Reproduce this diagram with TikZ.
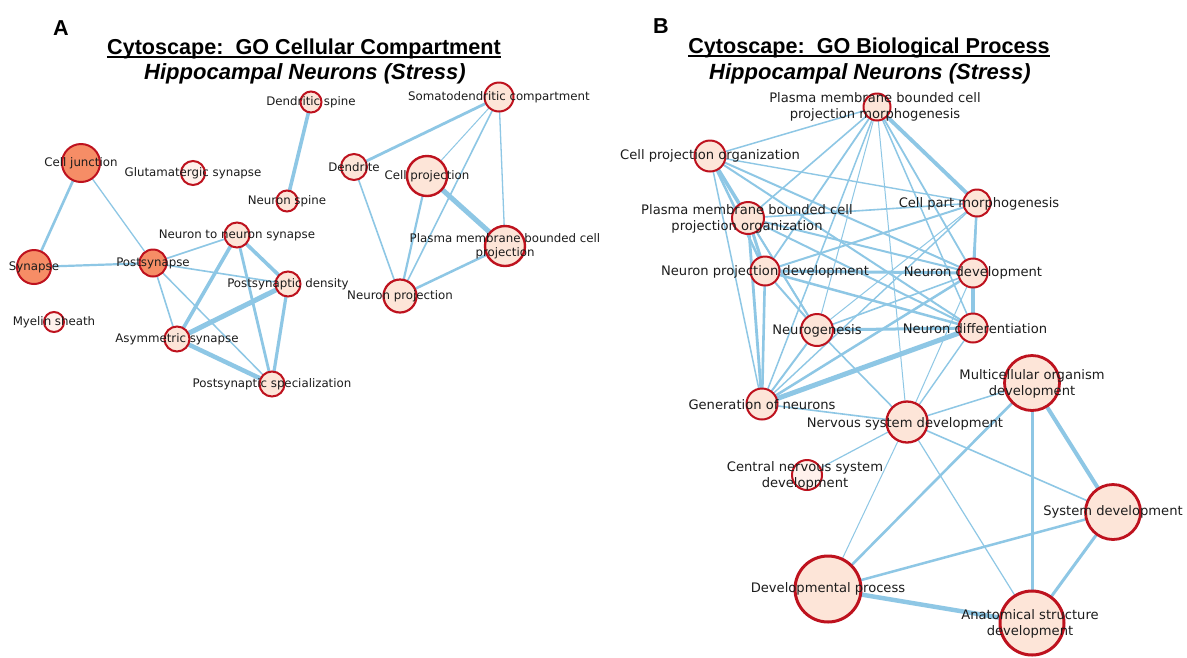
\documentclass[tikz,border=0pt]{standalone}
\usepackage{fontspec}
\newfontfamily\labfont{DejaVu Sans}
\newfontfamily\ttlfont{Liberation Sans}
\pgfdeclarelayer{bg}
\pgfsetlayers{bg,main}
\definecolor{lnkc}{RGB}{142,199,229}
\definecolor{ring}{RGB}{190,18,30}
\definecolor{peach}{RGB}{253,229,216}
\definecolor{pale}{RGB}{255,241,236}
\definecolor{orng}{RGB}{246,141,102}
\definecolor{txt}{RGB}{28,28,28}
\tikzset{
  gnode/.style={circle, draw=ring, line width=2pt, inner sep=0pt, fill=peach},
  lblA/.style={font=\labfont\fontsize{11.8}{14}\selectfont, text=txt, inner sep=0pt, align=center},
  lblB/.style={font=\labfont\fontsize{13.1}{15.7}\selectfont, text=txt, inner sep=0pt, align=center},
  lk/.style={draw=lnkc, line cap=round},
  ttl/.style={font=\ttlfont\bfseries\fontsize{21.6}{26}\selectfont, inner sep=0pt, anchor=base},
  ttlii/.style={font=\ttlfont\bfseries\itshape\fontsize{22}{26}\selectfont, inner sep=0pt, anchor=base},
}
\begin{document}
\begin{tikzpicture}[x=1pt,y=-1pt]
\useasboundingbox (0,0) rectangle (1187,657);

% ---------- titles ----------
\node[ttl] (pa) at (61,35) {A};
\node[ttl] (ta) at (304,54) {Cytoscape:\ \ GO Cellular Compartment};
\draw[line width=1.5pt] ([yshift=-3pt]ta.base west) -- ([yshift=-3pt]ta.base east);
\node[ttlii] (ta2) at (305,79.5) {Hippocampal Neurons (Stress)};

\node[ttl] (pb) at (661,33) {B};
\node[ttl] (tb) at (869,53) {Cytoscape:\ \ GO Biological Process};
\draw[line width=1.5pt] ([yshift=-3pt]tb.base west) -- ([yshift=-3pt]tb.base east);
\node[ttlii] (tb2) at (870,79) {Hippocampal Neurons (Stress)};

% ---------- panel A nodes ----------
\node[gnode, fill=orng, minimum size=38pt] (cj) at (81,163) {};
\node[gnode, fill=orng, minimum size=34pt] (syn) at (34,267) {};
\node[gnode, fill=orng, minimum size=27pt] (post) at (153,263) {};
\node[gnode, fill=pale, minimum size=24pt] (glu) at (193,173) {};
\node[gnode, minimum size=21pt] (dsp) at (311,102) {};
\node[gnode, minimum size=21pt] (nsp) at (287,201) {};
\node[gnode, minimum size=25pt] (nns) at (237,235) {};
\node[gnode, minimum size=25pt] (pd) at (288,284) {};
\node[gnode, fill=pale, minimum size=20pt] (mye) at (54,322) {};
\node[gnode, minimum size=25pt] (asy) at (177,339) {};
\node[gnode, minimum size=25pt] (pss) at (272,384) {};
\node[gnode, minimum size=29pt] (som) at (499,97) {};
\node[gnode, minimum size=26pt] (den) at (354,167) {};
\node[gnode, minimum size=40pt, line width=2.4pt] (cp) at (427,176) {};
\node[gnode, minimum size=40pt, line width=2.4pt] (pm) at (505,246) {};
\node[gnode, minimum size=33pt, line width=2.2pt] (np) at (400,296) {};

% ---------- panel B nodes ----------
\node[gnode, minimum size=27pt] (p1) at (877,107) {};
\node[gnode, minimum size=31pt] (cpo) at (710,156) {};
\node[gnode, minimum size=27pt] (cpm) at (977,203) {};
\node[gnode, minimum size=32pt] (po) at (748,218) {};
\node[gnode, minimum size=29pt] (npd) at (765,271) {};
\node[gnode, minimum size=29pt] (nd) at (973,273) {};
\node[gnode, minimum size=32pt] (ng) at (817,330) {};
\node[gnode, minimum size=29pt] (ndf) at (973,328) {};
\node[gnode, minimum size=31pt] (gn) at (762,404) {};
\node[gnode, minimum size=41pt, line width=2.3pt] (nsd) at (907,422) {};
\node[gnode, minimum size=55pt, line width=2.8pt] (mod) at (1032,383) {};
\node[gnode, fill=pale, minimum size=30pt] (cnsd) at (807,475) {};
\node[gnode, minimum size=55pt, line width=2.8pt] (sd) at (1113,512) {};
\node[gnode, minimum size=66pt, line width=3pt] (dp) at (828,589) {};
\node[gnode, minimum size=64pt, line width=3pt] (asd) at (1032,623) {};

% ---------- edges ----------
\begin{pgfonlayer}{bg}
\fill[white] (0,0) rectangle (1187,657);
% panel A
\draw[lk, line width=2.6pt] (cj) -- (syn);
\draw[lk, line width=1.3pt] (cj) -- (post);
\draw[lk, line width=2.2pt] (syn) -- (post);
\draw[lk, line width=3.6pt] (dsp) -- (nsp);
\draw[lk, line width=1.6pt] (post) -- (nns);
\draw[lk, line width=1.6pt] (post) -- (pd);
\draw[lk, line width=1.6pt] (post) -- (asy);
\draw[lk, line width=1.5pt] (post) -- (pss);
\draw[lk, line width=3.6pt] (nns) -- (pd);
\draw[lk, line width=3.6pt] (nns) -- (asy);
\draw[lk, line width=2.8pt] (nns) -- (pss);
\draw[lk, line width=5pt] (pd) -- (asy);
\draw[lk, line width=3.2pt] (pd) -- (pss);
\draw[lk, line width=4.5pt] (asy) -- (pss);
\draw[lk, line width=2.8pt] (som) -- (den);
\draw[lk, line width=1pt] (som) -- (cp);
\draw[lk, line width=1.6pt] (som) -- (np);
\draw[lk, line width=1.3pt] (som) -- (pm);
\draw[lk, line width=1.6pt] (den) -- (np);
\draw[lk, line width=2.2pt] (cp) -- (np);
\draw[lk, line width=5pt] (cp) -- (pm);
\draw[lk, line width=2.5pt] (np) -- (pm);
% panel B
\draw[lk, line width=1.5pt] (p1) -- (cpo);
\draw[lk, line width=1.6pt] (p1) -- (po);
\draw[lk, line width=1.8pt] (p1) -- (npd);
\draw[lk, line width=1pt] (p1) -- (ng);
\draw[lk, line width=1.5pt] (p1) -- (gn);
\draw[lk, line width=3.8pt] (p1) -- (cpm);
\draw[lk, line width=1.8pt] (p1) -- (nd);
\draw[lk, line width=1.5pt] (p1) -- (ndf);
\draw[lk, line width=1pt] (p1) -- (nsd);
\draw[lk, line width=1.4pt] (cpo) -- (cpm);
\draw[lk, line width=3.6pt] (cpo) -- (po);
\draw[lk, line width=2.5pt] (cpo) -- (npd);
\draw[lk, line width=1.5pt] (cpo) -- (gn);
\draw[lk, line width=1.6pt] (cpo) -- (ng);
\draw[lk, line width=2pt] (cpo) -- (nd);
\draw[lk, line width=2pt] (cpo) -- (ndf);
\draw[lk, line width=1.6pt] (po) -- (cpm);
\draw[lk, line width=3pt] (po) -- (npd);
\draw[lk, line width=2.8pt] (po) -- (gn);
\draw[lk, line width=2pt] (po) -- (ng);
\draw[lk, line width=2pt] (po) -- (nd);
\draw[lk, line width=2pt] (po) -- (ndf);
\draw[lk, line width=2pt] (npd) -- (cpm);
\draw[lk, line width=3pt] (npd) -- (nd);
\draw[lk, line width=2pt] (npd) -- (ng);
\draw[lk, line width=2.5pt] (npd) -- (ndf);
\draw[lk, line width=2.6pt] (npd) -- (gn);
\draw[lk, line width=2.5pt] (cpm) -- (nd);
\draw[lk, line width=1pt] (cpm) -- (ndf);
\draw[lk, line width=1pt] (cpm) -- (ng);
\draw[lk, line width=1.4pt] (cpm) -- (gn);
\draw[lk, line width=3.6pt] (nd) -- (ndf);
\draw[lk, line width=1.6pt] (nd) -- (ng);
\draw[lk, line width=2.5pt] (nd) -- (gn);
\draw[lk, line width=1pt] (nd) -- (nsd);
\draw[lk, line width=3pt] (ng) -- (ndf);
\draw[lk, line width=2pt] (ng) -- (gn);
\draw[lk, line width=1.6pt] (ng) -- (nsd);
\draw[lk, line width=5pt] (ndf) -- (gn);
\draw[lk, line width=1.4pt] (ndf) -- (nsd);
\draw[lk, line width=1.6pt] (gn) -- (nsd);
\draw[lk, line width=1.2pt] (nsd) -- (cnsd);
\draw[lk, line width=1.5pt] (nsd) -- (mod);
\draw[lk, line width=1.6pt] (nsd) -- (sd);
\draw[lk, line width=1pt] (nsd) -- (dp);
\draw[lk, line width=1.2pt] (nsd) -- (asd);
\draw[lk, line width=2.6pt] (mod) -- (dp);
\draw[lk, line width=4pt] (mod) -- (sd);
\draw[lk, line width=3pt] (mod) -- (asd);
\draw[lk, line width=2.5pt] (sd) -- (dp);
\draw[lk, line width=3pt] (sd) -- (asd);
\draw[lk, line width=4.5pt] (dp) -- (asd);
\end{pgfonlayer}

% ---------- labels A ----------
\node[lblA] (cjt) at (cj) {Cell junction};
\node[lblA] (synt) at (syn) {Synapse};
\node[lblA] (postt) at (post) {Postsynapse};
\node[lblA] (glut) at (glu) {Glutamatergic synapse};
\node[lblA] (dspt) at (dsp) {Dendritic spine};
\node[lblA] (nspt) at (nsp) {Neuron spine};
\node[lblA] (nnst) at (nns) {Neuron to neuron synapse};
\node[lblA] (pdt) at (pd) {Postsynaptic density};
\node[lblA] (myet) at (mye) {Myelin sheath};
\node[lblA] (asyt) at (asy) {Asymmetric synapse};
\node[lblA] (psst) at (pss) {Postsynaptic specialization};
\node[lblA] (somt) at (som) {Somatodendritic compartment};
\node[lblA] (dent) at (den) {Dendrite};
\node[lblA] (cpt) at (cp) {Cell projection};
\node[lblA] (pmt) at (pm) {Plasma membrane bounded cell\\projection};
\node[lblA] (npt) at (np) {Neuron projection};

% ---------- labels B ----------
\node[lblB] (p1t) at (875,107) {Plasma membrane bounded cell\\projection morphogenesis};
\node[lblB] (cpot) at (cpo) {Cell projection organization};
\node[lblB] (cpmt) at (979,204) {Cell part morphogenesis};
\node[lblB] (pot) at (747,219) {Plasma membrane bounded cell\\projection organization};
\node[lblB] (npdt) at (765,272) {Neuron projection development};
\node[lblB] (ndt) at (nd) {Neuron development};
\node[lblB] (ngt) at (817,331) {Neurogenesis};
\node[lblB] (ndft) at (975,329) {Neuron differentiation};
\node[lblB] (gnt) at (762,405) {Generation of neurons};
\node[lblB] (nsdt) at (905,424) {Nervous system development};
\node[lblB] (modt) at (1032,384) {Multicellular organism\\development};
\node[lblB] (cnsdt) at (805,476) {Central nervous system\\development};
\node[lblB] (sdt) at (sd) {System development};
\node[lblB] (dpt) at (dp) {Developmental process};
\node[lblB] (asdt) at (1030,624) {Anatomical structure\\development};
\end{tikzpicture}
\end{document}
